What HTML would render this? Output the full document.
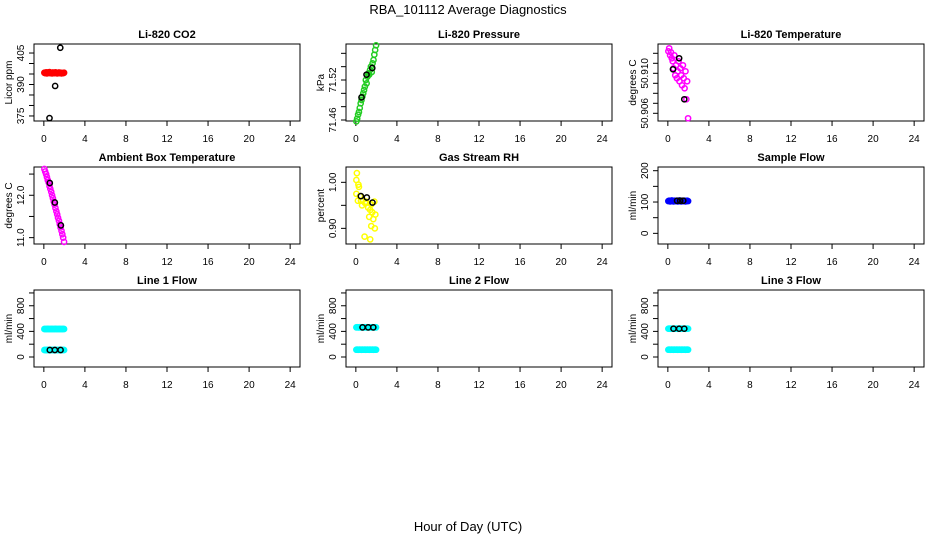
<!DOCTYPE html>
<html><head><meta charset="utf-8"><style>
body{margin:0;background:#fff}
svg{display:block;font-family:"Liberation Sans",sans-serif}
</style></head><body>
<svg id="chart" width="936" height="540" xmlns="http://www.w3.org/2000/svg">
<text x="468" y="14" font-size="13" text-anchor="middle">RBA_101112  Average Diagnostics</text>
<text x="468" y="531" font-size="13" text-anchor="middle">Hour of Day (UTC)</text>
</svg>
<script>
const hours=[0.05,0.13,0.22,0.3,0.38,0.47,0.55,0.63,0.72,0.8,0.88,0.97,1.05,1.13,1.22,1.3,1.38,1.47,1.55,1.63,1.72,1.8,1.88,1.97];
const xTicks=[0,4,8,12,16,20,24];
const co2=[395.6,395.4,395.8,395.3,395.7,395.5,395.9,395.4,395.6,395.3,395.7,395.5,395.4,395.8,395.6,395.3,395.5,395.7,395.4,395.6,395.3,395.5,395.4,395.6];
const co2AvgH=[0.55,1.1,1.6], co2Avg=[374,389.3,407.5];
const pressure=[71.458,71.462,71.468,71.472,71.478,71.485,71.49,71.495,71.5,71.505,71.51,71.52,71.515,71.525,71.53,71.528,71.535,71.54,71.532,71.545,71.55,71.558,71.565,71.572];
const presAvgH=[0.55,1.04,1.6], presAvg=[71.494,71.528,71.538];
const licorT=[50.9122,50.9125,50.9118,50.9121,50.9115,50.9112,50.9105,50.9118,50.9098,50.9108,50.9095,50.9102,50.9112,50.9092,50.9105,50.9098,50.9088,50.9108,50.9095,50.9085,50.9102,50.9074,50.9092,50.9055];
const licorTAvgH=[1.1,0.5,1.6], licorTAvg=[50.9115,50.9104,50.9074];
const ambT=[12.62,12.56,12.5,12.43,12.36,12.3,12.22,12.15,12.08,12.0,11.93,11.85,11.78,11.7,11.62,11.55,11.47,11.4,11.32,11.24,11.16,11.08,11.0,10.9];
const ambAvgH=[0.58,1.07,1.66], ambAvg=[12.29,11.83,11.29];
const rhH=[0.1,0.05,0.25,0.3,0.05,0.4,0.2,0.5,0.7,0.9,1.0,0.6,1.2,1.5,1.8,1.4,1.6,1.9,1.3,1.7,1.5,1.85,0.85,1.4];
const rh=[1.02,1.005,0.995,0.99,0.975,0.97,0.96,0.96,0.962,0.955,0.958,0.95,0.945,0.952,0.958,0.94,0.935,0.93,0.925,0.92,0.905,0.9,0.882,0.876];
const rhAvgH=[0.49,1.07,1.62], rhAvg=[0.97,0.967,0.956];
const sampleFlow=[103,104,102,103,105,103,102,104,103,103,104,102,103,105,103,102,104,103,103,104,102,103,104,103];
const sampleAvgH=[0.9,1.2,1.5], sampleAvg=[104,104,104];
const line1Hi=[437,438,436,437,439,437,436,438,437,437,438,436,437,439,437,436,438,437,437,438,436,437,438,437];
const line1Lo=[109,110,108,109,111,109,108,110,109,109,110,108,109,111,109,108,110,109,109,110,108,109,110,109];
const line1AvgH=[0.58,1.07,1.63], line1Avg=[109,109,109];
const line2Hi=[463,464,462,463,465,463,462,464,463,463,464,462,463,465,463,462,464,463,463,464,462,463,464,463];
const line2Lo=[114,115,113,114,116,114,113,115,114,114,115,113,114,116,114,113,115,114,114,115,113,114,115,114];
const line2AvgH=[0.65,1.2,1.7], line2Avg=[463,463,463];
const line3Hi=[442,443,441,442,444,442,441,443,442,442,443,441,442,444,442,441,443,442,442,443,441,442,443,442];
const line3Lo=[114,115,113,114,116,114,113,115,114,114,115,113,114,116,114,113,115,114,114,115,113,114,115,114];
const line3AvgH=[0.55,1.1,1.6], line3Avg=[442,442,442];
const flowTicks=[0,200,400,600,800,1000], flowLabels=[0,400,800];

const svg=document.getElementById('chart');
const NS='http://www.w3.org/2000/svg';
function el(tag,attrs,parent){const e=document.createElementNS(NS,tag);for(const k in attrs)e.setAttribute(k,attrs[k]);(parent||svg).appendChild(e);return e;}
const panels=[
 {name:'li820-co2',title:'Li-820 CO2',ylab:'Licor ppm',col:0,row:0,ylim:[372.6,409.3],ticks:[375,380,385,390,395,400,405],labels:[375,390,405],dec:0,series:[[hours,co2,'#ff0000']],avg:[co2AvgH,co2Avg]},
 {name:'li820-pressure',title:'Li-820 Pressure',ylab:'kPa',col:1,row:0,ylim:[71.4585,71.574],ticks:[71.46,71.48,71.5,71.52,71.54,71.56],labels:[71.46,71.52],dec:2,series:[[hours,pressure,'#22cc22']],avg:[presAvgH,presAvg]},
 {name:'li820-temperature',title:'Li-820 Temperature',ylab:'degrees C',col:2,row:0,ylim:[50.90523,50.91293],ticks:[50.906,50.907,50.908,50.909,50.91,50.911,50.912],labels:[50.906,50.91],dec:3,series:[[hours,licorT,'#ff00ff']],avg:[licorTAvgH,licorTAvg]},
 {name:'ambient-box-temperature',title:'Ambient Box Temperature',ylab:'degrees C',col:0,row:1,ylim:[10.85,12.667],ticks:[11,11.5,12,12.5],labels:[11,12],dec:1,series:[[hours,ambT,'#ff00ff']],avg:[ambAvgH,ambAvg]},
 {name:'gas-stream-rh',title:'Gas Stream RH',ylab:'percent',col:1,row:1,ylim:[0.866,1.0333],ticks:[0.9,0.95,1.0],labels:[0.9,1.0],dec:2,series:[[rhH,rh,'#ffff00']],avg:[rhAvgH,rhAvg]},
 {name:'sample-flow',title:'Sample Flow',ylab:'ml/min',col:2,row:1,ylim:[-34,211.8],ticks:[0,50,100,150,200],labels:[0,100,200],dec:0,series:[[hours,sampleFlow,'#0000ff']],avg:[sampleAvgH,sampleAvg]},
 {name:'line1-flow',title:'Line 1 Flow',ylab:'ml/min',col:0,row:2,ylim:[-156,1046],ticks:flowTicks,labels:flowLabels,dec:0,series:[[hours,line1Hi,'#00ffff'],[hours,line1Lo,'#00ffff']],avg:[line1AvgH,line1Avg]},
 {name:'line2-flow',title:'Line 2 Flow',ylab:'ml/min',col:1,row:2,ylim:[-156,1046],ticks:flowTicks,labels:flowLabels,dec:0,series:[[hours,line2Hi,'#00ffff'],[hours,line2Lo,'#00ffff']],avg:[line2AvgH,line2Avg]},
 {name:'line3-flow',title:'Line 3 Flow',ylab:'ml/min',col:2,row:2,ylim:[-156,1046],ticks:flowTicks,labels:flowLabels,dec:0,series:[[hours,line3Hi,'#00ffff'],[hours,line3Lo,'#00ffff']],avg:[line3AvgH,line3Avg]}
];
const lefts=[34,346,658], tops=[44,167,290], W=266, H=77, XMIN=-0.96, XMAX=24.96;
panels.forEach(p=>{
 const L=lefts[p.col],T=tops[p.row];
 const g=el('g',{});
 
 
 const xs=v=>L+(v-XMIN)/(XMAX-XMIN)*W;
 const ys=v=>T+H-(v-p.ylim[0])/(p.ylim[1]-p.ylim[0])*H;
 const t=el('text',{x:L+W/2,y:T-6,'font-size':11,'font-weight':'bold','text-anchor':'middle'},g);t.textContent=p.title;
 
 
 const box=el('rect',{x:L,y:T,width:W,height:H,fill:'none',stroke:'#000','stroke-width':1},g);
 
 
 xTicks.forEach(v=>{
  el('line',{x1:xs(v),x2:xs(v),y1:T+H,y2:T+H+5,stroke:'#000'},g);
  const tl=el('text',{x:xs(v),y:T+H+21,'font-size':10,'text-anchor':'middle'},g);tl.textContent=v;
  
  
 });
 p.ticks.forEach(v=>el('line',{x1:L,x2:L-5,y1:ys(v),y2:ys(v),stroke:'#000'},g));
 p.labels.forEach(v=>{
  const yy=ys(v),xx=L-10;
  const tl=el('text',{x:xx,y:yy,'font-size':10,'text-anchor':'middle',transform:`rotate(-90 ${xx} ${yy})`},g);
  tl.textContent=v.toFixed(p.dec);
  
  
 });
 const yl=el('text',{x:L-22,y:T+H/2,'font-size':10,'text-anchor':'middle',transform:`rotate(-90 ${L-22} ${T+H/2})`},g);
 yl.textContent=p.ylab;
 
 
 p.series.forEach(s=>{
  s[0].forEach((h,i)=>{
   const c=el('circle',{cx:xs(h),cy:ys(s[1][i]),r:2.6,fill:'none',stroke:s[2],'stroke-width':1.5},g);
   
   
  });
 });
 p.avg[0].forEach((h,i)=>{
  const c=el('circle',{cx:xs(h),cy:ys(p.avg[1][i]),r:2.6,fill:'none',stroke:'#000','stroke-width':1.5},g);
  
  
 });
});
</script>
</body></html>
